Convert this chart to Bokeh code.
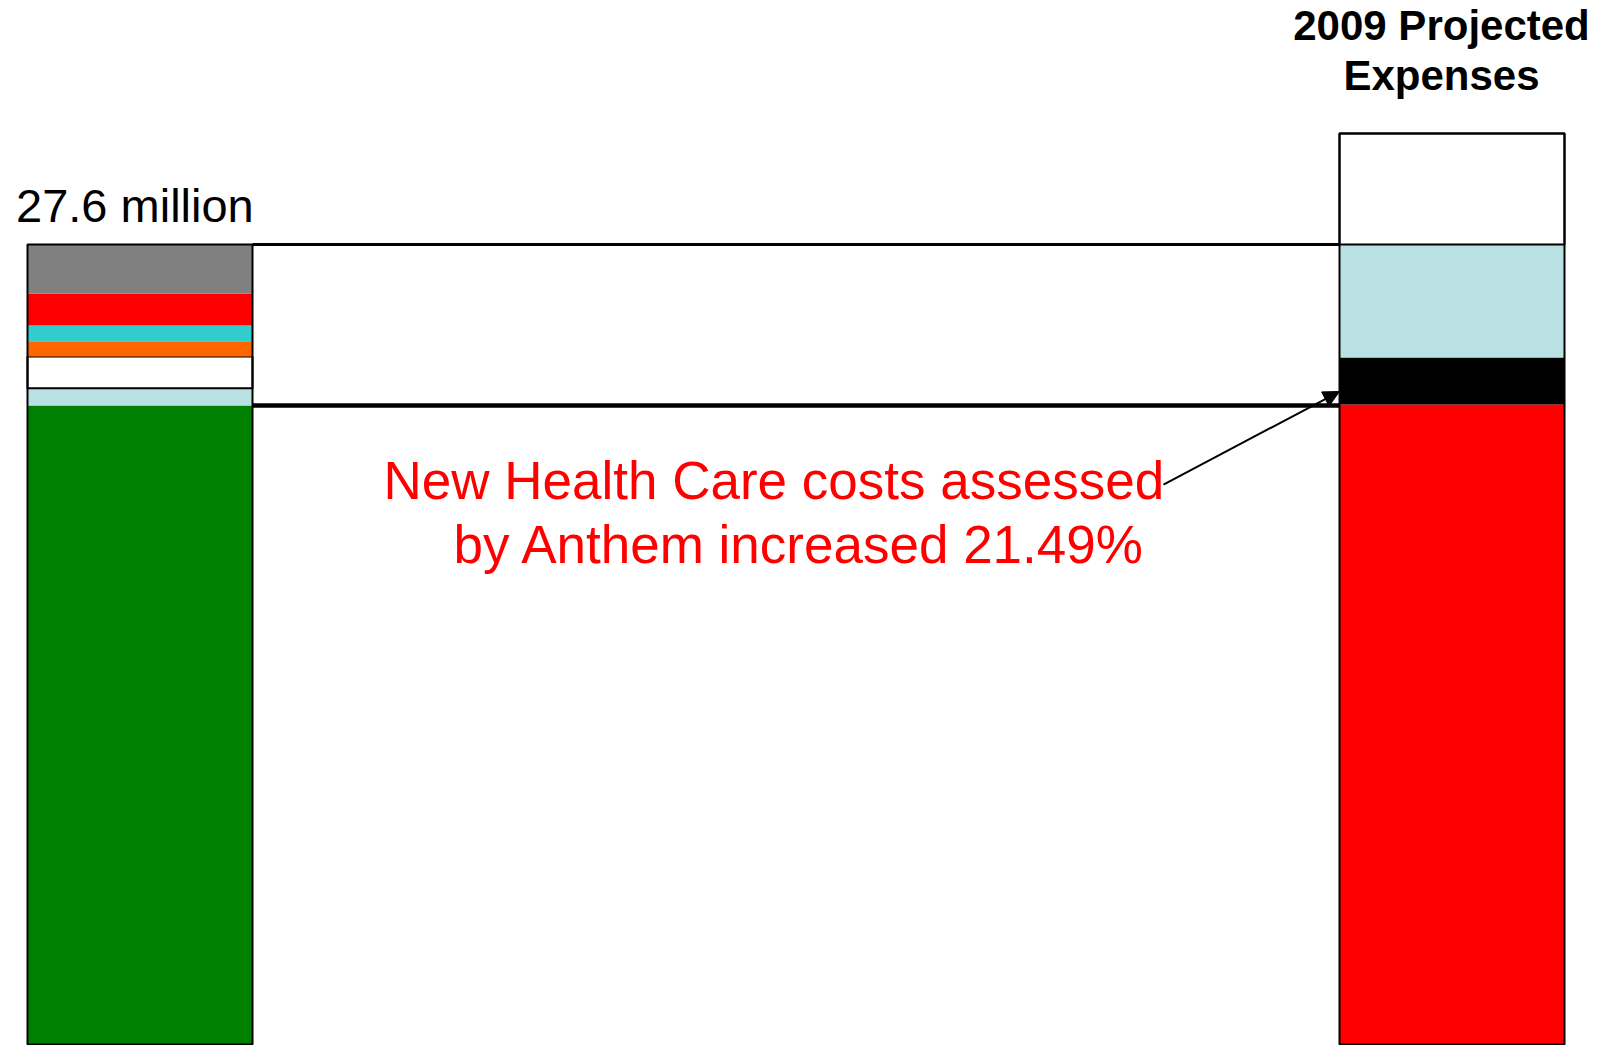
import numpy as np
from bokeh.plotting import figure
from bokeh.models import Range1d, Arrow, NormalHead, ColumnDataSource
from bokeh.core.properties import value
from bokeh.embed import file_html
from bokeh.resources import INLINE

# ---- data (millions of dollars), stacked bottom -> top ----
bar_positions = [0, 1]
left_values = [22.04, 0.59, 1.10, 0.52, 0.55, 1.10, 1.69]
left_colors = ["#008000", "#B9E0E3", "#FFFFFF", "#FF6600", "#33CCCC", "#FF0000", "#808080"]
right_values = [22.07, 1.62, 3.90, 3.83]
right_colors = ["#FF0000", "#000000", "#B9E0E3", "#FFFFFF"]
left_label = "27.6 million"
right_title = ["2009 Projected", "Expenses"]
note_lines = ["New Health Care costs assessed", "by Anthem increased 21.49%"]

BAR_W = 0.1715
FONT = "Liberation Sans"

p = figure(width=1604, height=1045, output_backend="svg", toolbar_location=None,
           x_range=Range1d(-0.10633, 1.11623), y_range=Range1d(-0.0345, 36.005),
           x_axis_type=None, y_axis_type=None, min_border=0)
p.outline_line_color = None
p.xgrid.grid_line_color = None
p.ygrid.grid_line_color = None
p.background_fill_color = "white"


def stack(x, vals, cols):
    tops = np.cumsum(vals)
    bottoms = tops - np.array(vals)
    src = ColumnDataSource(dict(x=[x] * len(vals), bottom=bottoms, top=tops, color=cols,
                                line=["black" if c.upper() == "#FFFFFF" else None for c in cols]))
    p.vbar(x="x", bottom="bottom", top="top", width=BAR_W, fill_color="color",
           line_color="line", line_width=2, source=src)
    # outline
    p.vbar(x=[x], bottom=[0], top=[tops[-1]], width=BAR_W, fill_alpha=0,
           line_color="black", line_width=2)
    return bottoms, tops


lb, lt = stack(bar_positions[0], left_values, left_colors)
rb, rt = stack(bar_positions[1], right_values, right_colors)

x0 = bar_positions[0] + BAR_W / 2
x1 = bar_positions[1] - BAR_W / 2
# connecting lines
p.segment(x0=[x0], y0=[lt[-1]], x1=[x1], y1=[lt[-1]], line_color="black", line_width=3)
p.segment(x0=[x0], y0=[lt[0]], x1=[x1], y1=[lt[0]], line_color="black", line_width=4.5)

# labels
p.text(x=[-0.0945], y=[28.92], text=[left_label], text_font=value(FONT),
       text_font_size="47px", text_color="black", text_baseline="alphabetic",
       text_align="left")
p.text(x=[0.992, 0.992], y=[35.14, 33.42], text=right_title, text_font=value(FONT),
       text_font_size="42px", text_font_style="bold", text_color="black",
       text_baseline="alphabetic", text_align="center")
p.text(x=[0.1856, 0.2389], y=[19.46, 17.24], text=note_lines, text_font=value(FONT),
       text_font_size="53px", text_color="#FF0000", text_baseline="alphabetic",
       text_align="left")

# arrow
p.add_layout(Arrow(end=NormalHead(size=16, fill_color="black", line_color="black"),
                   x_start=0.7801, y_start=19.31, x_end=x1, y_end=rt[0] + 0.45,
                   line_color="black", line_width=2))

open("out.html", "w").write(file_html(p, INLINE))
